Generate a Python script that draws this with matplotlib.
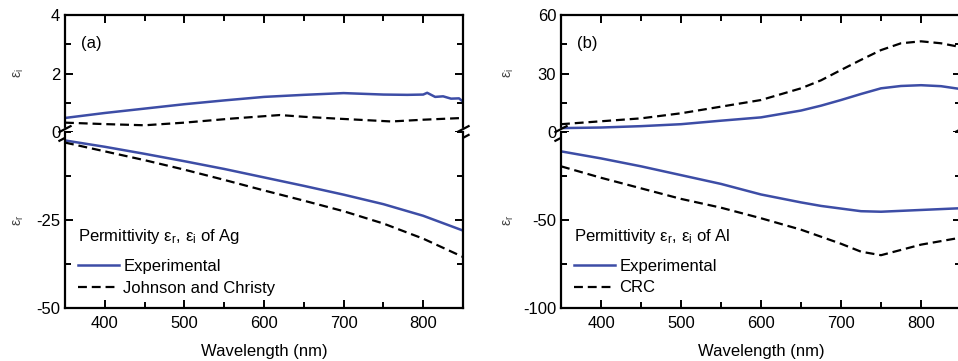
import matplotlib
matplotlib.use("Agg")
import matplotlib.pyplot as plt
from matplotlib.ticker import MultipleLocator

plt.rcParams["font.family"] = ["Liberation Sans", "DejaVu Sans"]
plt.rcParams["mathtext.fontset"] = "custom"
plt.rcParams["mathtext.rm"] = "Liberation Sans"
plt.rcParams["mathtext.it"] = "Liberation Sans"
plt.rcParams["axes.unicode_minus"] = False

BLUE = "#3d4da6"
DASH = (0, (4, 2.2))

# ---- data ----
wl = [350, 400, 450, 500, 550, 600, 650, 700, 750, 800, 850]

# (a) Ag
ag_wl_i = [350, 400, 450, 500, 550, 600, 650, 700, 750, 780, 800, 805,
           815, 825, 835, 845, 850]
ag_exp_i = [0.48, 0.65, 0.80, 0.95, 1.08, 1.20, 1.27, 1.33, 1.28, 1.27, 1.28,
            1.34, 1.20, 1.22, 1.14, 1.15, 1.04]
ag_wl_jc_i = [350, 400, 450, 500, 560, 620, 650, 690, 760, 800, 850]
ag_jc_i = [0.32, 0.27, 0.23, 0.32, 0.46, 0.58, 0.52, 0.46, 0.36, 0.42, 0.48]
ag_exp_r = [-2.4, -4.2, -6.2, -8.3, -10.5, -12.9, -15.3, -17.8, -20.5, -23.8, -28.0]
ag_jc_r = [-3.0, -5.5, -8.0, -10.7, -13.6, -16.6, -19.5, -22.5, -26.0, -30.3, -35.5]

# (b) Al
al_wl = [350, 400, 450, 500, 550, 600, 650, 675, 700, 725, 750, 775, 800, 825, 850]
al_exp_i = [2.0, 2.3, 3.0, 4.0, 5.8, 7.5, 11.0, 13.5, 16.4, 19.5, 22.4, 23.6, 24.0, 23.5, 22.0]
al_crc_i = [4.0, 5.5, 7.0, 9.6, 13.0, 16.4, 22.4, 26.5, 31.8, 37.0, 42.0, 45.5, 46.5, 45.5, 43.5]
al_exp_r = [-11.0, -15.0, -19.5, -24.5, -29.5, -35.5, -40.0, -42.0, -43.5, -45.0, -45.3,
            -44.8, -44.3, -43.8, -43.3]
al_crc_r = [-19.5, -26.0, -32.0, -38.0, -43.0, -49.0, -55.5, -59.5, -63.5, -68.0, -70.0,
            -67.0, -64.0, -62.0, -60.0]

fig = plt.figure(figsize=(9.58, 3.61), dpi=100)
W, H = 958.0, 361.0


def make_axes(x0_px, top_px, mid_px, bot_px, width_px, label_x_px):
    ax_u = fig.add_axes([x0_px / W, 1 - mid_px / H, width_px / W, (mid_px - top_px) / H])
    ax_l = fig.add_axes([x0_px / W, 1 - bot_px / H, width_px / W, (bot_px - mid_px) / H])
    for ax in (ax_u, ax_l):
        ax.set_xlim(350, 850)
        ax.xaxis.set_major_locator(MultipleLocator(100))
        ax.xaxis.set_minor_locator(MultipleLocator(50))
        for sp in ax.spines.values():
            sp.set_linewidth(1.6)
        ax.tick_params(which="both", direction="in", right=True, width=1.4,
                       labelsize=12)
        ax.tick_params(which="major", length=6)
        ax.tick_params(which="minor", length=4)
        ax.tick_params(axis="x", pad=6)
    ax_u.spines["bottom"].set_visible(False)
    ax_u.tick_params(which="both", bottom=False, labelbottom=False, top=True)
    ax_l.spines["top"].set_visible(False)
    ax_l.tick_params(which="both", top=False)
    ax_l.set_xlabel("Wavelength (nm)", fontsize=12, labelpad=9)
    ax_u.set_ylabel(r"ε$_\mathregular{i}$", fontsize=10, color="#444444", rotation=90)
    ax_l.set_ylabel(r"ε$_\mathregular{r}$", fontsize=10, color="#444444", rotation=90)
    lx = (label_x_px - x0_px) / width_px
    ax_u.yaxis.set_label_coords(lx, 0.5)
    ax_l.yaxis.set_label_coords(lx, 0.5)
    return ax_u, ax_l


def break_marks(ax_u):
    for xa in (0.0, 1.0):
        ax_u.plot([xa, xa], [-0.045, 0.02], transform=ax_u.transAxes,
                  color="white", lw=3, clip_on=False, zorder=5)
        for dy in (-0.05, 0.025):
            ax_u.plot([xa - 0.014, xa + 0.014], [dy - 0.025, dy + 0.025],
                      transform=ax_u.transAxes, color="black", lw=1.6,
                      clip_on=False, zorder=6)


def add_legend(ax, title, width_px):
    # title drawn as its own text so the gap to the entries matches
    ax.text(13.5 / width_px, (308 - 237) / 176.0, title,
            transform=ax.transAxes, fontsize=12, va="center", ha="left")
    ax.legend(loc="lower left", frameon=False, fontsize=12, handlelength=2.5,
              handletextpad=0.25, labelspacing=0.38, borderaxespad=0.55,
              borderpad=0.2)


# ---- panel (a) ----
au, al = make_axes(65, 15, 132, 308, 398, 26)
au.plot(ag_wl_i, ag_exp_i, color=BLUE, lw=1.8)
au.plot(ag_wl_jc_i, ag_jc_i, color="black", lw=1.6, ls=DASH)
au.set_ylim(0, 4)
au.yaxis.set_major_locator(MultipleLocator(2))
au.yaxis.set_minor_locator(MultipleLocator(1))
al.plot(wl, ag_exp_r, color=BLUE, lw=1.8, label="Experimental")
al.plot(wl, ag_jc_r, color="black", lw=1.6, ls=DASH, label="Johnson and Christy")
al.set_ylim(-50, 0)
al.set_yticks([-50, -25])
al.yaxis.set_minor_locator(MultipleLocator(12.5))
au.text(0.04, 0.72, "(a)", transform=au.transAxes, fontsize=12)
break_marks(au)
add_legend(al, r"Permittivity ε$_\mathregular{r}$, ε$_\mathregular{i}$ of Ag", 398)

# ---- panel (b) ----
bu, bl = make_axes(561, 15, 132, 308, 400, 516)
bu.plot(al_wl, al_exp_i, color=BLUE, lw=1.8)
bu.plot(al_wl, al_crc_i, color="black", lw=1.6, ls=DASH)
bu.set_ylim(0, 60)
bu.yaxis.set_major_locator(MultipleLocator(30))
bu.yaxis.set_minor_locator(MultipleLocator(15))
bl.plot(al_wl, al_exp_r, color=BLUE, lw=1.8, label="Experimental")
bl.plot(al_wl, al_crc_r, color="black", lw=1.6, ls=DASH, label="CRC")
bl.set_ylim(-100, 0)
bl.set_yticks([-100, -50])
bl.yaxis.set_minor_locator(MultipleLocator(25))
bu.text(0.04, 0.72, "(b)", transform=bu.transAxes, fontsize=12)
break_marks(bu)
add_legend(bl, r"Permittivity ε$_\mathregular{r}$, ε$_\mathregular{i}$ of Al", 400)

fig.savefig("out.png", dpi=100, facecolor="white")
